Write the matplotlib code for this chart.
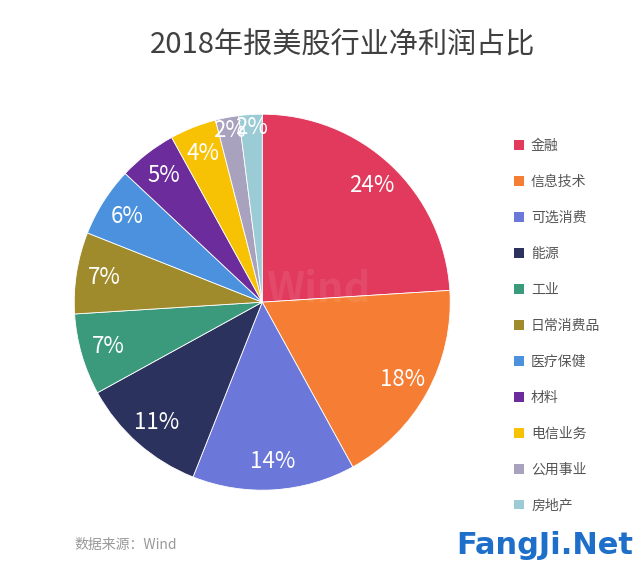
import numpy as np
import matplotlib.pyplot as plt
from matplotlib.patches import Patch

plt.rcParams['font.family'] = ['Noto Sans CJK SC', 'DejaVu Sans']

sectors = ['金融', '信息技术', '可选消费', '能源', '工业', '日常消费品',
           '医疗保健', '材料', '电信业务', '公用事业', '房地产']
shares = [24, 18, 14, 11, 7, 7, 6, 5, 4, 2, 2]
colors = ['#E13A5C', '#F57E34', '#6B77D9', '#2C325E', '#3B9A7C', '#A08B2C',
          '#4B91DE', '#6C2C9C', '#F7C204', '#A9A2BE', '#9BCCD5']

fig = plt.figure(figsize=(6.4, 5.68), dpi=100)
fig.patch.set_facecolor('white')

ax = fig.add_axes([0.116, 0.137, 0.5875, 0.662])
wedges, texts, autotexts = ax.pie(
    shares, colors=colors, startangle=90, counterclock=False,
    autopct='%d%%', pctdistance=0.85,
    wedgeprops=dict(edgecolor='white', linewidth=0.6),
    textprops=dict(color='white', fontsize=16))
ax.set_xlim(-1, 1)
ax.set_ylim(-1, 1)
ax.set_aspect('equal')

# push the tiny slices' labels nearer the rim, as in the original
for w, t, v in zip(wedges, autotexts, shares):
    if v <= 2:
        ang = np.deg2rad((w.theta1 + w.theta2) / 2)
        t.set_position((0.93 * np.cos(ang), 0.93 * np.sin(ang)))

# faint watermark inside the pie
ax.text(0.65, 0.53, 'Wind', transform=ax.transAxes, fontsize=30,
        color='white', alpha=0.08, ha='center', va='center', fontweight='bold')

handles = [Patch(facecolor=c, edgecolor='none') for c in colors]
fig.legend(handles, sectors, loc='upper left', bbox_to_anchor=(0.795, 0.765),
           frameon=False, fontsize=10, labelcolor='#555555',
           handlelength=0.7, handleheight=0.7, handletextpad=0.5,
           labelspacing=1.58, borderaxespad=0)

fig.text(0.535, 0.92, '2018年报美股行业净利润占比', ha='center', va='center',
         fontsize=21, color='#404040')
fig.text(0.117, 0.04, '数据来源：Wind', ha='left', va='center',
         fontsize=10, color='#999999')
fig.text(0.99, 0.04, 'FangJi.Net', ha='right', va='center',
         fontsize=22, color='#1E6FC9', fontweight='bold', family='DejaVu Sans')

fig.savefig('out.png', dpi=100, facecolor='white')
